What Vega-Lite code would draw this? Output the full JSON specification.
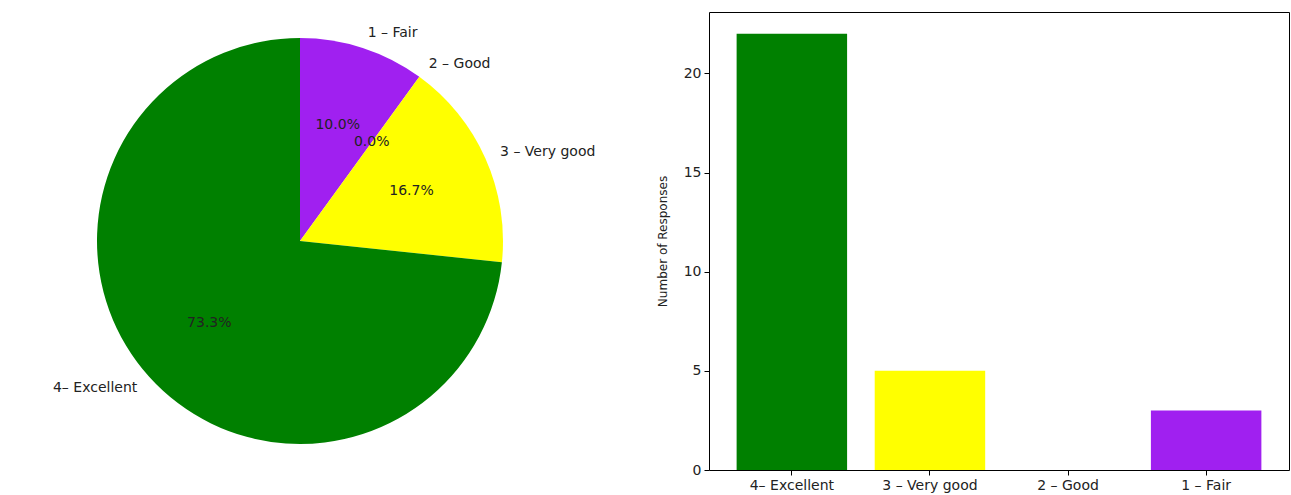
{
  "$schema": "https://vega.github.io/schema/vega-lite/v6.json",
  "padding": {"left": 0, "top": 11, "right": 1, "bottom": 0},
  "spacing": 55,
  "config": {
    "view": {"stroke": null},
    "font": "DejaVu Sans",
    "axis": {
      "domainColor": "#000000",
      "tickColor": "#000000",
      "labelColor": "#222222",
      "titleColor": "#222222",
      "labelFont": "DejaVu Sans",
      "titleFont": "DejaVu Sans",
      "labelFontSize": 14,
      "titleFontSize": 12,
      "titleFontWeight": "normal",
      "tickSize": 5,
      "labelPadding": 3,
      "grid": false
    }
  },
  "datasets": {
    "resp": [
      {"cat": "1 – Fair", "n": 3, "pct": "10.0%"},
      {"cat": "2 – Good", "n": 0, "pct": "0.0%"},
      {"cat": "3 – Very good", "n": 5, "pct": "16.7%"},
      {"cat": "4– Excellent", "n": 22, "pct": "73.3%"}
    ]
  },
  "hconcat": [
    {
      "width": 600,
      "height": 458,
      "data": {"name": "resp"},
      "encoding": {
        "theta": {"field": "n", "type": "quantitative", "stack": true},
        "order": {"field": "cat", "type": "nominal", "sort": "ascending"}
      },
      "layer": [
        {
          "mark": {"type": "arc", "outerRadius": 203},
          "encoding": {
            "color": {
              "field": "cat",
              "type": "nominal",
              "scale": {
                "domain": ["1 – Fair", "2 – Good", "3 – Very good", "4– Excellent"],
                "range": ["#a020f0", "#ffffff", "#ffff00", "#008000"]
              },
              "legend": null
            }
          }
        },
        {
          "mark": {
            "type": "text",
            "radius": 219,
            "fontSize": 14,
            "color": "#222222",
            "baseline": "middle",
            "align": {"expr": "datum.cat == '4– Excellent' ? 'right' : 'left'"}
          },
          "encoding": {"text": {"field": "cat", "type": "nominal"}}
        },
        {
          "mark": {
            "type": "text",
            "radius": 122,
            "fontSize": 14,
            "color": "#222222",
            "baseline": "middle",
            "align": "center"
          },
          "encoding": {"text": {"field": "pct", "type": "nominal"}}
        }
      ]
    },
    {
      "width": 580,
      "height": 458,
      "view": {"stroke": "#000000", "strokeWidth": 1},
      "data": {"name": "resp"},
      "mark": {"type": "bar"},
      "encoding": {
        "x": {
          "field": "cat",
          "type": "nominal",
          "sort": ["4– Excellent", "3 – Very good", "2 – Good", "1 – Fair"],
          "scale": {"paddingInner": 0.2, "paddingOuter": 0.2},
          "axis": {"title": null, "labelAngle": 0, "domain": false}
        },
        "y": {
          "field": "n",
          "type": "quantitative",
          "scale": {"domain": [0, 23.1], "nice": false},
          "axis": {"title": "Number of Responses", "values": [0, 5, 10, 15, 20], "titlePadding": 14, "domain": false}
        },
        "color": {
          "field": "cat",
          "type": "nominal",
          "scale": {
            "domain": ["1 – Fair", "2 – Good", "3 – Very good", "4– Excellent"],
            "range": ["#a020f0", "#ffffff", "#ffff00", "#008000"]
          },
          "legend": null
        }
      }
    }
  ]
}
